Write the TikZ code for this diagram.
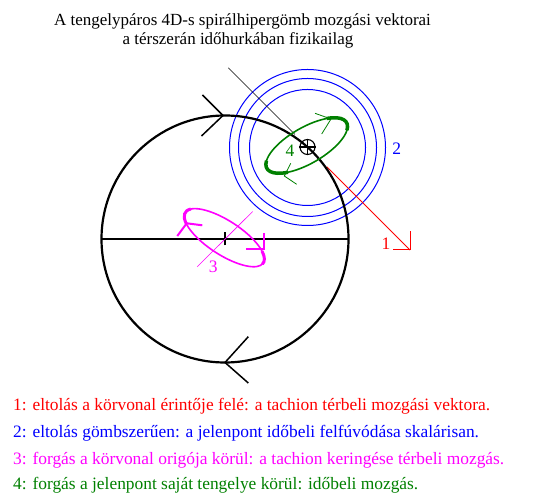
\documentclass[tikz,border=0pt]{standalone}
\usepackage{fontspec}
\setmainfont{Liberation Serif}
\definecolor{gr}{RGB}{0,128,0}
\definecolor{mg}{RGB}{255,0,255}
\definecolor{rd}{RGB}{255,0,0}
\definecolor{bl}{RGB}{0,0,255}
\begin{document}
\begin{tikzpicture}[x=1pt,y=1pt,
  txt/.style={inner sep=0pt,font=\fontsize{17.4}{20}\selectfont},
  ttl/.style={inner sep=0pt,anchor=base,font=\fontsize{17}{20}\selectfont},
  lbl/.style={inner sep=0pt,anchor=base,font=\fontsize{17.5}{20}\selectfont},
  thinb/.style={line width=1pt,bl}]
\useasboundingbox (0,0) rectangle (540,500);
% title
\node[ttl] (t1) at (242.5,474) {A tengelypáros 4D-s spirálhipergömb mozgási vektorai};
\node[ttl] (t2) at (238,455.7) {a térszerán időhurkában fizikailag};
% blue spheres
\coordinate (P) at (307.5,352.5);
\draw[thinb] (P) circle[radius=58];
\draw[thinb] (P) circle[radius=69];
\draw[thinb] (P) circle[radius=78];
% tangent line (black part and red part)
\coordinate (L0) at (228.3,432.2);
\coordinate (L1) at (295,365.5);
\coordinate (R0) at (326.7,333.3);
\coordinate (R1) at (410,250);
\draw[line width=0.6pt] (L0) -- (L1);
\draw[line width=0.8pt,rd] (R0) -- (R1);
\draw[line width=1pt,rd] (410,268.5) -- (R1) -- (393,250);
% big circle
\coordinate (O) at (225,261);
\draw[line width=2.2pt] (O) circle[radius=123.5];
\coordinate (W) at (101.5,261);
\coordinate (E) at (348.5,261);
\draw[line width=2.2pt] (W) -- (E);
\draw[line width=1.8pt] (225,254.5) -- (225,267.5);
% circle arrows
\draw[line width=1.5pt] (202.5,405) -- (223,384.5) -- (201.5,364);
\draw[line width=1.5pt] (248.3,163.3) -- (225,137.5) -- (248.3,117);
% magenta rotation
\begin{scope}[shift={(224.3,262.3)},rotate=-33,mg]
  \draw[line width=1.6pt] (0,0) ellipse[x radius=46.5, y radius=17];
  \draw[line width=3pt] (160:46.5 and 17) arc[start angle=160,end angle=212,x radius=46.5,y radius=17];
  \draw[line width=3pt] (-5:46.5 and 17) arc[start angle=-5,end angle=33,x radius=46.5,y radius=17];
\end{scope}
\draw[mg,line width=0.6pt] (252.7,288.5) -- (197.3,233.3);
\draw[mg,line width=2pt] (177.3,264) -- (186.7,276.7) -- (202.3,274.7);
\draw[mg,line width=2pt] (264.3,267) -- (264.3,250.7) -- (246,250.7);
% green rotation
\begin{scope}[shift={(306.7,354.5)},rotate=30,gr]
  \draw[line width=1.6pt] (0,0) ellipse[x radius=46, y radius=18];
  \draw[line width=3.5pt] (-23:46 and 18) arc[start angle=-23,end angle=48,x radius=46,y radius=18];
  \draw[line width=3.5pt] (157:46 and 18) arc[start angle=157,end angle=230,x radius=46,y radius=18];
\end{scope}
\draw[gr,line width=0.8pt] (315,386.7) -- (331,381) -- (321.7,366);
\draw[gr,line width=0.8pt] (290.7,336.7) -- (284.3,324) -- (296.7,315.7);
% present point
\node[draw,circle,line width=1.1pt,minimum size=15pt,inner sep=0pt] (X) at (307.5,353) {};
\draw[line width=1.1pt] (X.north) -- (X.south) (X.west) -- (X.east);
% labels
\node[lbl,rd] (n1) at (386,250) {1};
\node[lbl,bl] (n2) at (396.7,345) {2};
\node[lbl,mg] (n3) at (213.3,227.3) {3};
\node[lbl,gr] (n4) at (290,343.3) {4};
% legend
\node[txt,anchor=base west,rd] (g1) at (13,89.3) {1: eltolás a körvonal érintője felé: a tachion térbeli mozgási vektora.};
\node[txt,anchor=base west,bl] (g2) at (13,62.3) {2: eltolás gömbszerűen: a jelenpont időbeli felfúvódása skalárisan.};
\node[txt,anchor=base west,mg] (g3) at (13,35.7) {3: forgás a körvonal origója körül: a tachion keringése térbeli mozgás.};
\node[txt,anchor=base west,gr] (g4) at (13,11) {4: forgás a jelenpont saját tengelye körül: időbeli mozgás.};
\end{tikzpicture}
\end{document}
